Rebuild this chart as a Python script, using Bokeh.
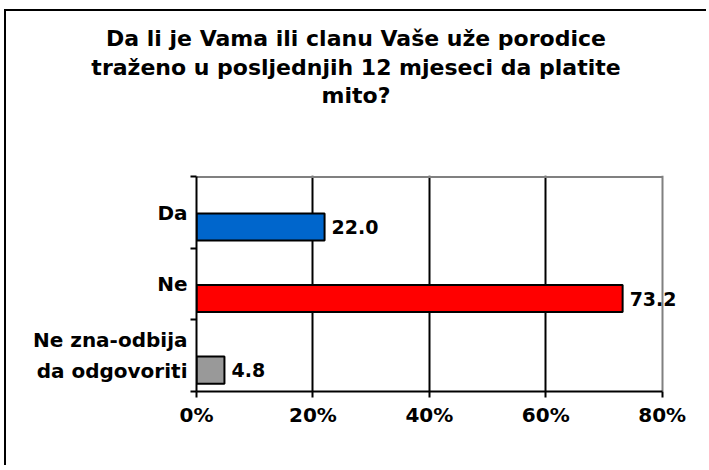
from bokeh.plotting import figure
from bokeh.layouts import column
from bokeh.models import (FixedTicker, CustomJSTickFormatter, Range1d,
                          ColumnDataSource, LabelSet, Grid, Div)
from bokeh.core.properties import value
from bokeh.embed import file_html
from bokeh.resources import INLINE

# ---- data ----
categories = ["Da", "Ne", "Ne zna-odbija\nda odgovoriti"]
values = [22.0, 73.2, 4.8]
colors = ["#0066CC", "#FF0000", "#999999"]
x_ticks = [0, 20, 40, 60, 80]
x_tick_labels = ["0%", "20%", "40%", "60%", "80%"]
title_lines = ["Da li je Vama ili clanu Vaše uže porodice",
               "traženo u posljednjih 12 mjeseci da platite",
               "mito?"]

FONT = "DejaVu Sans"

n = len(categories)
# first category at the top
ypos = [n - i - 0.5 for i in range(n)]
bar_y = [y - 0.2 for y in ypos]
label_text = [f"{v:.1f}" for v in values]

src = ColumnDataSource(dict(y=bar_y, value=values, color=colors, label=label_text))

# ---- title (HTML text, centred over the whole chart area) ----
title = Div(
    text=("<div style=\"text-align:center; font-family:'DejaVu Sans'; font-weight:bold;"
          " font-size:22px; line-height:28.5px; color:black; padding-top:14px;"
          " width:700px;\">" + "<br>".join(title_lines) + "</div>"),
    width=700, height=99, margin=0)

# ---- plot ----
x_max_view = x_ticks[-1] + 4     # room for the value label that overhangs the frame
p = figure(width=700, height=355,
           x_range=Range1d(x_ticks[0], x_max_view), y_range=Range1d(0, n + 0.02),
           output_backend="svg", toolbar_location=None,
           min_border_left=190, min_border_right=21,
           min_border_top=65, min_border_bottom=74)

p.background_fill_color = "white"
p.border_fill_color = "white"
p.outline_line_color = None

# grid lines (black inside, grey at the right end)
p.xgrid.ticker = FixedTicker(ticks=x_ticks[1:-1])
p.xgrid.grid_line_color = "black"
p.xgrid.grid_line_width = 2
p.ygrid.visible = False
p.add_layout(Grid(dimension=0, ticker=FixedTicker(ticks=[x_ticks[-1]]),
                  grid_line_color="#808080", grid_line_width=2))
# grey top border of the plot area
p.segment(x0=[x_ticks[0]], y0=[n], x1=[x_ticks[-1]], y1=[n],
          line_color="#808080", line_width=2)

# bars
p.hbar(y="y", left=0, right="value", height=0.38, fill_color="color",
       line_color="black", line_width=2, source=src)

labels = LabelSet(x="value", y="y", text="label", x_offset=7, source=src,
                  text_baseline="middle", text_align="left",
                  text_font=value(FONT), text_font_style="bold",
                  text_font_size="19px", text_color="black")
p.add_layout(labels)

# x axis
p.xaxis.bounds = (x_ticks[0], x_ticks[-1])
p.xaxis.ticker = FixedTicker(ticks=x_ticks)
p.xaxis.major_label_overrides = dict(zip(x_ticks, x_tick_labels))
p.xaxis.major_label_text_font = FONT
p.xaxis.major_label_text_font_style = "bold"
p.xaxis.major_label_text_font_size = "20px"
p.xaxis.major_label_text_color = "black"
p.xaxis.major_label_standoff = 5
p.xaxis.axis_line_color = "black"
p.xaxis.axis_line_width = 2
p.xaxis.major_tick_line_color = "black"
p.xaxis.major_tick_line_width = 2
p.xaxis.major_tick_in = 0
p.xaxis.major_tick_out = 6
p.xaxis.minor_tick_line_color = None

# y axis
p.yaxis.bounds = (0, n)
p.yaxis.ticker = FixedTicker(ticks=ypos, minor_ticks=list(range(n + 1)))
p.yaxis.formatter = CustomJSTickFormatter(
    args=dict(labels=list(reversed(categories))),
    code="const i = Math.floor(tick); return (i >= 0 && i < labels.length) ? labels[i] : '';")
p.yaxis.major_label_text_font = FONT
p.yaxis.major_label_text_font_style = "bold"
p.yaxis.major_label_text_font_size = "20px"
p.yaxis.major_label_text_color = "black"
p.yaxis.major_label_text_line_height = 1.3
p.yaxis.major_label_standoff = 3
p.yaxis.major_tick_line_color = None
p.yaxis.major_tick_in = 0
p.yaxis.major_tick_out = 0
p.yaxis.minor_tick_line_color = "black"
p.yaxis.minor_tick_line_width = 2
p.yaxis.minor_tick_in = 0
p.yaxis.minor_tick_out = 6
p.yaxis.axis_line_color = "black"
p.yaxis.axis_line_width = 2

layout = column(title, p, spacing=0)
layout.styles = {"margin-left": "4px", "margin-top": "9px",
                 "border-top": "2px solid black", "border-left": "2px solid black",
                 "background-color": "white"}

open("out.html", "w").write(file_html(layout, INLINE))
